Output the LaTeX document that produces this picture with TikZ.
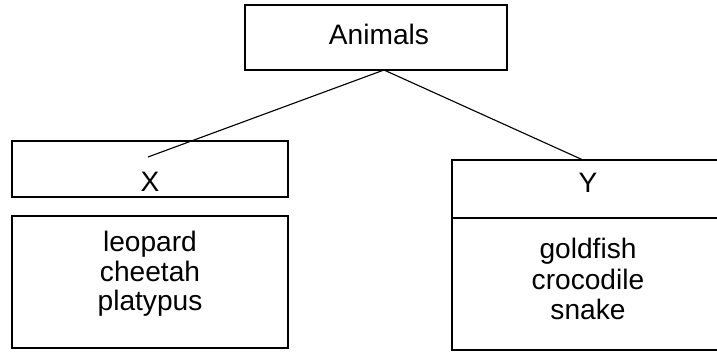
\documentclass[tikz,border=0pt]{standalone}
\usepackage{fontspec}
\setmainfont{Liberation Sans}
\usetikzlibrary{positioning}

\begin{document}
\begin{tikzpicture}[
	%	style def
    x=0.025cm, y=-0.025cm,
    box line/.style={line width=1pt},
    group box/.style={box line, draw, rectangle, inner sep=0pt},
    branch/.style={line width=0.8pt},
    every node/.style={color=black, font=\fontsize{20}{21}\selectfont}
    ]
    % page frame
    \useasboundingbox (0,0) rectangle (717,352);
    \clip (0,0) rectangle (717,352);

	% top box
    \node[group box, minimum width=6.55cm, minimum height=1.625cm] (animals) at (376,37.5) {};
    \node (animalsLabel) at (379,34) {Animals};

    % left group
    \node[group box, minimum width=6.9cm, minimum height=1.4cm] (xhead) at (150,169) {};
    \node (xlabel) at (150,182) {X};
    \node[group box, minimum width=6.9cm, minimum height=3.3cm] (xlist) at (150,282) {};
    \node[align=center] (xitems) at (150,274) {leopard\\cheetah\\platypus};

    % right group (cut off at the page edge)
    \node[group box, minimum width=6.8cm, minimum height=1.45cm] (yhead) at (588,189) {};
    \node (ylabel) at (588,183) {Y};
    \node[group box, minimum width=6.8cm, minimum height=3.3cm] (ylist) at (588,284) {};
    \node[align=center, font=\fontsize{20}{22}\selectfont] (yitems) at (588,279) {goldfish\\crocodile\\snake};

    % connecting branches
    \coordinate (fork) at (384,70);
    \coordinate (xend) at (148,157);
    \coordinate (yend) at (583,160);
    \draw[branch] (fork) -- (xend);
    \draw[branch] (fork) -- (yend);
\end{tikzpicture}
\end{document}
